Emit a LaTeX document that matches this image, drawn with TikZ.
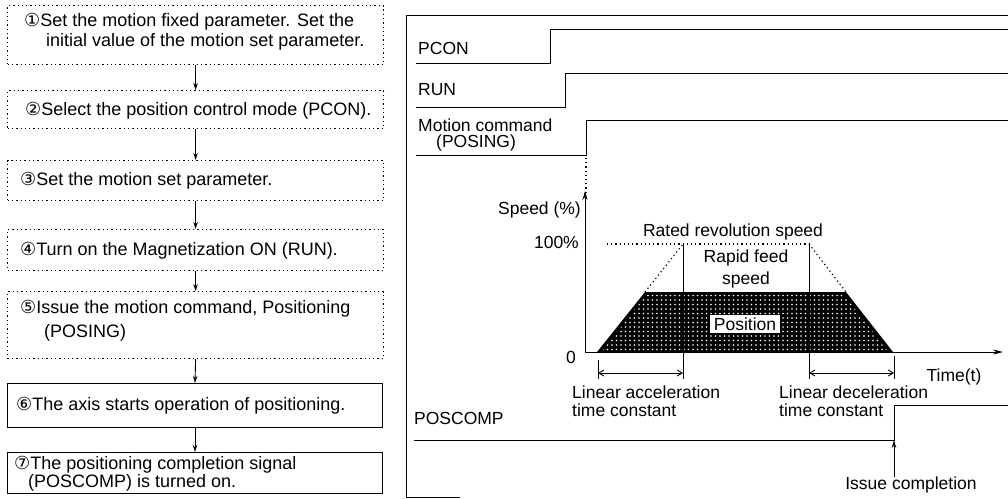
\documentclass[tikz,border=0pt]{standalone}
\usepackage{fontspec}
\setmainfont{Liberation Sans}
\newfontfamily\circfont{DejaVu Sans}
\usetikzlibrary{arrows.meta,patterns.meta}
\begin{document}
\begin{tikzpicture}[x=1pt,y=-1pt,
  every node/.style={font=\fontsize{17.5}{22}\selectfont, inner sep=0pt},
  txt/.style={anchor=west},
  ltxt/.style={anchor=west, font=\fontsize{18}{22}\selectfont},
  dbox/.style={draw, dash pattern=on 1.3pt off 3pt, line width=1.2pt, minimum width=376pt, anchor=north west},
  sbox/.style={draw, line width=1pt, minimum width=375pt, anchor=north west},
  flow/.style={-{Stealth[length=7pt,width=4.5pt]}, line width=0.9pt},
  sig/.style={line width=1pt},
  dim/.style={{Straight Barb[length=5pt,width=6pt]}-{Straight Barb[length=5pt,width=6pt]}, line width=0.9pt},
  dots/.style={dash pattern=on 1.2pt off 3pt, line width=1.2pt}]
\useasboundingbox (0,0) rectangle (1008,498);

% ---------- left flow ----------
\node[dbox, minimum height=59pt] (b1) at (7,5) {};
\node[dbox, minimum height=38pt] (b2) at (7,90) {};
\node[dbox, minimum height=40pt] (b3) at (7,160) {};
\node[dbox, minimum height=41pt] (b4) at (7,229) {};
\node[dbox, minimum height=67pt] (b5) at (7,291) {};
\node[sbox, minimum height=44pt] (b6) at (7,383) {};
\node[sbox, minimum height=41pt] (b7) at (7,452) {};

\node[ltxt] (t1a) at (24,22) {{\circfont ①}Set the motion fixed parameter. Set the};
\node[ltxt] (t1b) at (46,42) {initial value of the motion set parameter.};
\node[ltxt] (t2) at (25,111) {{\circfont ②}Select the position control mode (PCON).};
\node[ltxt] (t3) at (20,181) {{\circfont ③}Set the motion set parameter.};
\node[ltxt] (t4) at (20,251) {{\circfont ④}Turn on the Magnetization ON (RUN).};
\node[ltxt] (t5a) at (20,309) {{\circfont ⑤}Issue the motion command, Positioning};
\node[ltxt] (t5b) at (44,333) {(POSING)};
\node[ltxt] (t6) at (16,406) {{\circfont ⑥}The axis starts operation of positioning.};
\node[ltxt] (t7a) at (14,465) {{\circfont ⑦}The positioning completion signal};
\node[ltxt] (t7b) at (28,483) {(POSCOMP) is turned on.};

\draw[flow] (b1.south) -- (b2.north);
\draw[flow] (b2.south) -- (b3.north);
\draw[flow] (b3.south) -- (b4.north);
\draw[flow] (b4.south) -- (b5.north);
\draw[flow] (b5.south) -- (b6.north);
\draw[flow] (b6.south) -- (b7.north);

% ---------- right timing chart ----------
\draw[line width=1pt] (406,498) -- (406,15) -- (1008,15);
\draw[line width=1pt] (406,497) -- (460,497);

\node[txt] (pcon) at (418,48) {PCON};
\draw[sig] (416,63) -- (550,63) -- (550,29) -- (1008,29);
\node[txt] (run) at (418,90) {RUN};
\draw[sig] (416,107) -- (565,107) -- (565,73) -- (1008,73);
\node[txt] (mc) at (418,125) {Motion command};
\node[txt] (mc2) at (436,143) {(POSING)};
\draw[sig] (416,155) -- (586,155) -- (586,120) -- (1008,120);
\draw[dots] (586,158) -- (586,192);

% speed profile
\coordinate (o) at (585,352);
\fill[black] (597,352) -- (645,292) -- (846,292) -- (893,352) -- cycle;
\fill[pattern={Dots[distance=4.5pt, radius=0.9pt]}, pattern color=white] (603,350) -- (646,295) -- (844,295) -- (887,350) -- cycle;
\draw[-{Stealth[length=9pt,width=5pt]}, line width=1pt] (o) -- (585,191);
\draw[-{Stealth[length=10pt,width=5pt]}, line width=1pt] (o) -- (1003,352);
\node[anchor=east] (spd) at (581,210) {Speed (\%)};
\node[anchor=east] (p100) at (579,242) {100\%};
\node[anchor=east] (zero) at (576,357) {0};

\draw[dots] (607,244) -- (812,244);
\draw[dots] (645,292) -- (683,244);
\draw[dots] (809,244) -- (846,292);
\draw[line width=1pt] (683,244) -- (683,379);
\draw[line width=1pt] (809,244) -- (809,379);
\draw[line width=1pt] (598,360) -- (598,379);
\draw[line width=1pt] (894,356) -- (894,379);
\draw[dim] (598,373) -- (683,373);
\draw[dim] (809,373) -- (894,373);

\node (rated) at (733,232) {Rated revolution speed};
\node[align=center] (rapid) at (746,269) {Rapid feed\\speed};
\node[fill=white, inner xsep=4pt, inner ysep=3pt] (pos) at (745,324) {Position};
\node (time) at (954,377) {Time(t)};
\node[txt] (la1) at (572,392) {Linear acceleration};
\node[txt] (la2) at (572,410) {time constant};
\node[txt] (ld1) at (779,392) {Linear deceleration};
\node[txt] (ld2) at (779,410) {time constant};

\node[txt] (pc) at (414,418) {POSCOMP};
\coordinate (pcstep) at (894,440);
\draw[sig] (414,440) -- (pcstep) -- (894,405) -- (1008,405);
\node (issue) at (911,485) {Issue completion};
\draw[-{Stealth[length=8pt,width=4.5pt]}, line width=1pt] (issue.north -| pcstep) -- (pcstep);
\end{tikzpicture}
\end{document}
